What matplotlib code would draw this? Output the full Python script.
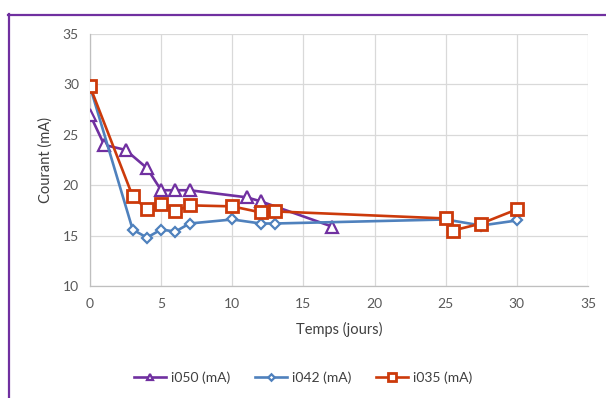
import matplotlib
matplotlib.use("Agg")
import matplotlib.pyplot as plt
from matplotlib.lines import Line2D

plt.rcParams['font.family'] = ['Lato', 'DejaVu Sans']

# Data
x050 = [0, 1, 2.5, 4, 5, 6, 7, 11, 12, 17]
y050 = [27.0, 24.0, 23.5, 21.7, 19.5, 19.5, 19.5, 18.8, 18.4, 15.9]

x042 = [0, 3, 4, 5, 6, 7, 10, 12, 13, 25, 27.5, 30]
y042 = [29.8, 15.6, 14.8, 15.6, 15.4, 16.2, 16.6, 16.2, 16.2, 16.6, 16.0, 16.5]

x035 = [0, 3, 4, 5, 6, 7, 10, 12, 13, 25, 25.5, 27.5, 30]
y035 = [29.8, 18.9, 17.6, 18.1, 17.4, 18.0, 17.9, 17.3, 17.4, 16.7, 15.5, 16.2, 17.6]

labels = ["i050 (mA)", "i042 (mA)", "i035 (mA)"]
xticks = [0, 5, 10, 15, 20, 25, 30, 35]
yticks = [10, 15, 20, 25, 30, 35]

W, H = 606, 398
fig = plt.figure(figsize=(W / 100, H / 100), dpi=100)
ax = fig.add_axes([90 / W, 1 - 286 / H, (588 - 90) / W, (286 - 34) / H])

purple = '#7030a0'
blue = '#4f81bd'
red = '#cc3a0b'

ax.plot(x050, y050, color=purple, lw=1.9, marker='^', ms=8, mfc='white',
        mec=purple, mew=1.6, label=labels[0], zorder=3)
ax.plot(x042, y042, color=blue, lw=1.9, marker='D', ms=5.5, mfc='white',
        mec=blue, mew=1.6, label=labels[1], zorder=4)
ax.plot(x035, y035, color=red, lw=1.9, marker='s', ms=9, mfc='white',
        mec=red, mew=2.0, label=labels[2], zorder=5)

ax.set_xlim(0, 35)
ax.set_ylim(10, 35)
ax.set_xticks(xticks)
ax.set_yticks(yticks)
ax.grid(True, color='#d9d9d9', lw=0.9, zorder=0)
ax.set_axisbelow(True)
for s in ['top', 'right']:
    ax.spines[s].set_visible(False)
for s in ['left', 'bottom']:
    ax.spines[s].set_color('#bfbfbf')
    ax.spines[s].set_linewidth(0.9)
ax.tick_params(length=0, colors='#595959', labelsize=10, pad=8)
ax.tick_params(axis='x', pad=9)
ax.set_xlabel("Temps (jours)", fontsize=10.5, color='#404040', labelpad=8)
ax.set_ylabel("Courant (mA)", fontsize=10.5, color='#404040', labelpad=7)

leg = fig.legend(loc='center', bbox_to_anchor=(0.5, 1 - 378 / H), ncol=3,
                 frameon=False, fontsize=10, handlelength=2.3,
                 columnspacing=1.8, handletextpad=0.35, markerscale=0.6,
                 labelcolor='#404040')

# Purple frame (left and top)
fig.add_artist(Line2D([8.5 / W, 8.5 / W], [0, 1 - 14 / H], color=purple, lw=1.6,
                      transform=fig.transFigure))
fig.add_artist(Line2D([8 / W, 1], [1 - 14.5 / H, 1 - 14.5 / H], color=purple, lw=1.6,
                      transform=fig.transFigure))

fig.savefig("out.png", dpi=100)
